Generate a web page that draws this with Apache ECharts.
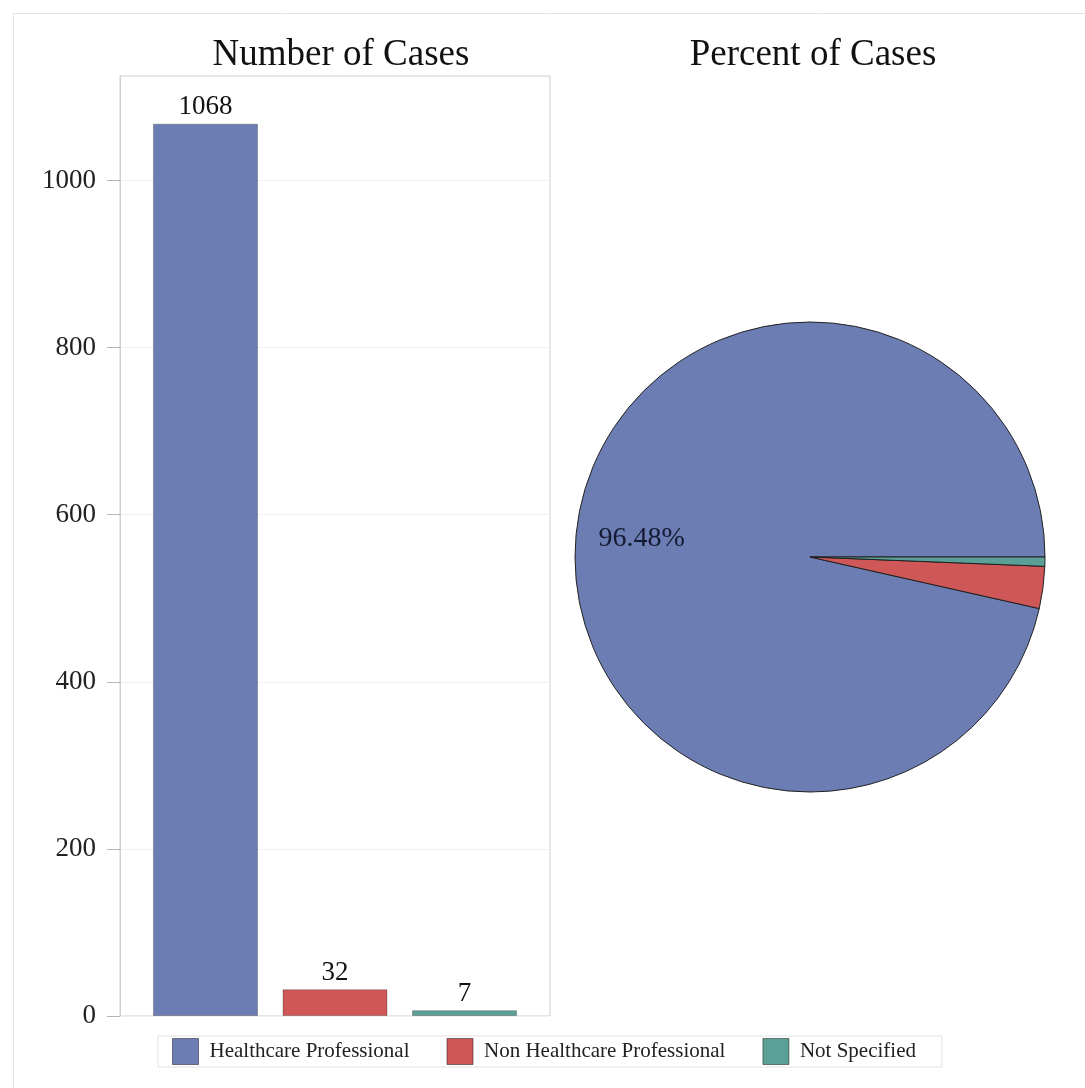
<!DOCTYPE html>
<html>
<head>
<meta charset="utf-8">
<script src="https://cdn.jsdelivr.net/npm/echarts@6/dist/echarts.min.js"></script>
<style>
  html, body { margin: 0; padding: 0; background: #fff; }
  #main { width: 1085px; height: 1088px; }
</style>
</head>
<body>
<div id="main"></div>
<script>
var categories = ['Healthcare Professional', 'Non Healthcare Professional', 'Not Specified'];
var caseCounts = [1068, 32, 7];
var colors = ['#6c7db3', '#cf5757', '#5aa097'];
var yTicks = [0, 200, 400, 600, 800, 1000];

var serif = '"Liberation Serif", "Times New Roman", serif';

// bar data: x position = category index + 1
var barData = [];
var pieData = [];
for (var i = 0; i < categories.length; i++) {
    barData.push({
        value: [i + 1, caseCounts[i]],
        name: categories[i],
        itemStyle: { color: colors[i], borderColor: 'rgba(0,0,0,0.25)', borderWidth: 1 }
    });
    pieData.push({
        value: caseCounts[i],
        name: categories[i],
        itemStyle: { color: colors[i] }
    });
}

// transparent copy of the pie, used only to place the big slice's label
var labelData = pieData.map(function (d, i) {
    return {
        value: d.value,
        name: d.name,
        itemStyle: { color: 'rgba(0,0,0,0)', borderWidth: 0 },
        label: { show: i == 0 }
    };
});

var option = {
    animation: false,
    backgroundColor: '#fff',
    title: [
        {
            text: 'Number of Cases', left: 336, top: 32, textAlign: 'center',
            textStyle: { fontFamily: serif, fontSize: 37, fontWeight: 'normal', color: '#111' }
        },
        {
            text: 'Percent of Cases', left: 808, top: 32, textAlign: 'center',
            textStyle: { fontFamily: serif, fontSize: 37, fontWeight: 'normal', color: '#111' }
        }
    ],
    graphic: [
        {
            type: 'rect', left: 11, top: 11, silent: true, z: -1,
            shape: { width: 1080, height: 1080 },
            style: { fill: 'none', stroke: '#e4e4e4', lineWidth: 1 }
        }
    ],
    legend: {
        data: categories,
        left: 158, top: 1036,
        padding: [2, 26, 2, 14],
        borderColor: '#e2e2e2', borderWidth: 1,
        icon: 'rect',
        itemWidth: 26, itemHeight: 26, itemGap: 37,
        itemStyle: { borderColor: 'rgba(0,0,0,0.45)', borderWidth: 1 },
        textStyle: { fontFamily: serif, fontSize: 21, color: '#222', padding: [0, 0, 0, 6] },
        selectedMode: false
    },
    grid: {
        left: 120, top: 76, width: 430, height: 940,
        show: true, borderColor: '#cfcfcf', borderWidth: 1
    },
    xAxis: {
        type: 'value', min: 0.34, max: 3.66,
        axisLine: { show: false }, axisTick: { show: false },
        axisLabel: { show: false }, splitLine: { show: false }
    },
    yAxis: {
        type: 'value', min: 0, max: 1125,
        axisLine: { show: true, lineStyle: { color: '#cfcfcf' } },
        axisTick: { show: true, length: 13, customValues: yTicks, lineStyle: { color: '#b5b5b5' } },
        axisLabel: {
            customValues: yTicks, margin: 24,
            fontFamily: serif, fontSize: 27, color: '#222',
            formatter: function (v) { return String(v); }
        },
        splitLine: { show: true, lineStyle: { color: '#f0f0f0' } }
    },
    series: [
        {
            type: 'bar',
            name: 'Number of Cases',
            barWidth: 105,
            data: barData,
            label: {
                show: true, position: 'top', distance: 3,
                fontFamily: serif, fontSize: 27, color: '#111',
                formatter: function (p) { return p.value[1]; }
            }
        },
        {
            type: 'pie',
            name: 'Percent of Cases',
            center: [810, 557],
            radius: 235,
            startAngle: 0,
            clockwise: false,
            data: pieData,
            label: { show: false },
            labelLine: { show: false },
            itemStyle: { borderColor: '#222', borderWidth: 1 }
        },
        {
            type: 'pie',
            silent: true,
            center: [810, 557],
            radius: [98, 235],
            startAngle: 0,
            clockwise: false,
            percentPrecision: 2,
            data: labelData,
            z: 5,
            label: {
                position: 'inside',
                fontFamily: serif, fontSize: 28, color: '#141a33',
                formatter: function (p) { return p.percent.toFixed(2) + '%'; }
            },
            labelLine: { show: false }
        }
    ]
};

var myChart = echarts.init(document.getElementById('main'));
myChart.setOption(option);
</script>
</body>
</html>
